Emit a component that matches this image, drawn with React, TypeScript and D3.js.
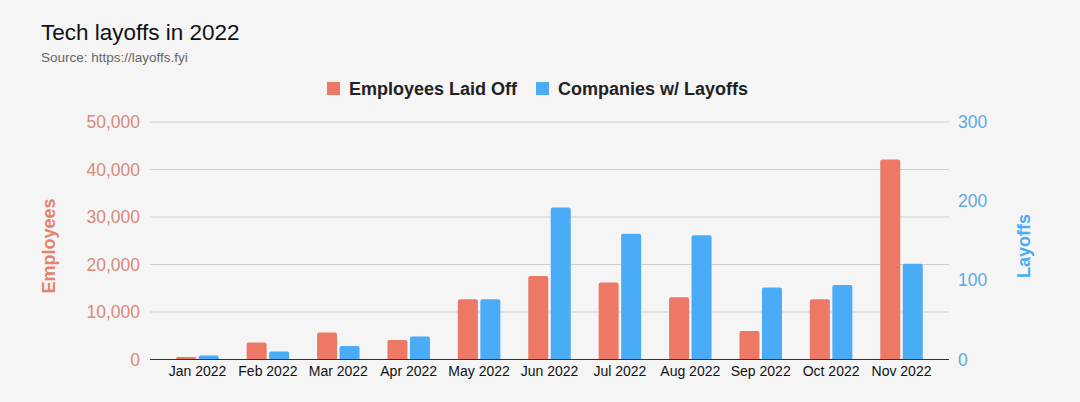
import React from 'react';
import * as d3 from 'd3';

const months = ['Jan 2022', 'Feb 2022', 'Mar 2022', 'Apr 2022', 'May 2022', 'Jun 2022', 'Jul 2022', 'Aug 2022', 'Sep 2022', 'Oct 2022', 'Nov 2022'];
const employeesLaidOff = [510, 3600, 5700, 4100, 12700, 17600, 16200, 13100, 6000, 12700, 42100];
const companiesWithLayoffs = [5, 10, 17, 29, 76, 192, 159, 157, 91, 94, 121];
const employeeTicks = [0, 10000, 20000, 30000, 40000, 50000];
const companyTicks = [0, 100, 200, 300];

const RED = '#ee7866';
const BLUE = '#4aabf6';
const FONT = '"Liberation Sans", Arial, Helvetica, sans-serif';

const W = 1080;
const H = 402;
const plotLeft = 150;
const plotRight = 949;
const plotTop = 122;
const plotBottom = 359.5;

const App: React.FC = () => {
  const x = d3.scaleBand<string>().domain(months).range([162.3, 936.7]).padding(0);
  const yLeft = d3.scaleLinear().domain([0, 50000]).range([plotBottom, plotTop]);
  const yRight = d3.scaleLinear().domain([0, 300]).range([plotBottom, plotTop]);
  const fmt = d3.format(',');

  const barW = 20;
  const gap = 2.5;

  // bar with slightly rounded top corners
  const barPath = (x0: number, y0: number, w: number, h: number) => {
    const r = Math.min(2, h / 2);
    return `M${x0},${y0 + h}V${y0 + r}Q${x0},${y0} ${x0 + r},${y0}H${x0 + w - r}Q${x0 + w},${y0} ${x0 + w},${y0 + r}V${y0 + h}Z`;
  };

  return (
    <svg width={W} height={H} style={{ position: 'absolute', left: 0, top: 0 }} fontFamily={FONT}>
      <rect width={W} height={H} fill="#f5f5f5" />
      <text x={41} y={40} fontSize={22.5} fill="#111">Tech layoffs in 2022</text>
      <text x={41} y={62} fontSize={13.5} fill="#666">Source: https://layoffs.fyi</text>

      {/* legend */}
      <g fontSize={18} fontWeight="bold" fill="#222">
        <rect x={327} y={82} width={13} height={13} fill={RED} />
        <text x={349} y={95}>Employees Laid Off</text>
        <rect x={536} y={82} width={13} height={13} fill={BLUE} />
        <text x={558} y={95}>Companies w/ Layoffs</text>
      </g>

      {/* gridlines + left ticks */}
      {employeeTicks.map((t) => (
        <g key={t}>
          {t > 0 && <line x1={plotLeft} x2={plotRight} y1={yLeft(t)} y2={yLeft(t)} stroke="#cfcfcf" strokeWidth={1} />}
          <text x={140} y={yLeft(t)} dy="0.35em" textAnchor="end" fontSize={17.5} fill="#d98a7c">{fmt(t)}</text>
        </g>
      ))}

      {/* right ticks */}
      {companyTicks.map((t) => (
        <text key={t} x={958} y={yRight(t)} dy="0.35em" fontSize={17.5} fill="#5aaae4">{t}</text>
      ))}

      {/* axis titles */}
      <text transform="translate(55,246) rotate(-90)" textAnchor="middle" fontSize={18} fontWeight="bold" fill="#e8806c">Employees</text>
      <text transform="translate(1030,246) rotate(-90)" textAnchor="middle" fontSize={18} fontWeight="bold" fill={BLUE}>Layoffs</text>

      {/* bars */}
      {months.map((m, i) => {
        const cx = (x(m) ?? 0) + x.bandwidth() / 2;
        const ey = yLeft(employeesLaidOff[i]);
        const cy = yRight(companiesWithLayoffs[i]);
        return (
          <g key={m}>
            <path d={barPath(cx - gap / 2 - barW, ey, barW, plotBottom - ey)} fill={RED} />
            <path d={barPath(cx + gap / 2, cy, barW, plotBottom - cy)} fill={BLUE} />
            <text x={cx} y={376} textAnchor="middle" fontSize={14} fill="#111">{m}</text>
          </g>
        );
      })}

      {/* baseline */}
      <line x1={plotLeft} x2={plotRight} y1={plotBottom} y2={plotBottom} stroke="#333" strokeWidth={1.2} />
    </svg>
  );
};

export default App;
